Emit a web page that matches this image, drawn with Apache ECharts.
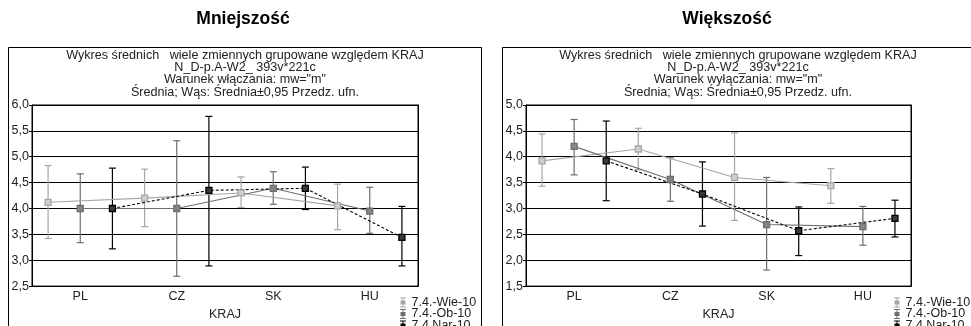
<!DOCTYPE html>
<html>
<head>
<meta charset="utf-8">
<script src="https://cdn.jsdelivr.net/npm/echarts@6/dist/echarts.min.js"></script>
<style>
  html, body { margin: 0; padding: 0; background: #fff; }
  #chart { width: 971px; height: 326px; }
</style>
</head>
<body>
<div id="chart"></div>
<script>
// dane
const categories = ['PL', 'CZ', 'SK', 'HU'];
const seriesNames = ['7.4.-Wie-10', '7.4.-Ob-10', '7.4.Nar-10'];

// Mniejszość
const minWieMean = [4.12, 4.20, 4.30, 4.05];
const minWieLow  = [3.42, 3.65, 4.02, 3.59];
const minWieHigh = [4.83, 4.76, 4.61, 4.47];
const minObMean  = [4.00, 4.00, 4.39, 3.95];
const minObLow   = [3.34, 2.69, 4.08, 3.52];
const minObHigh  = [4.67, 5.31, 4.71, 4.41];
const minNarMean = [4.00, 4.35, 4.39, 3.44];
const minNarLow  = [3.22, 2.89, 3.98, 2.89];
const minNarHigh = [4.78, 5.78, 4.80, 4.04];

// Większość
const majWieMean = [3.92, 4.15, 3.60, 3.44];
const majWieLow  = [3.43, 3.75, 2.77, 3.10];
const majWieHigh = [4.44, 4.55, 4.46, 3.77];
const majObMean  = [4.20, 3.56, 2.69, 2.65];
const majObLow   = [3.65, 3.14, 1.81, 2.29];
const majObHigh  = [4.72, 3.98, 3.60, 3.04];
const majNarMean = [3.92, 3.28, 2.57, 2.81];
const majNarLow  = [3.15, 2.66, 2.09, 2.45];
const majNarHigh = [4.69, 3.90, 3.03, 3.16];

const minYRange = [2.5, 6.0];
const majYRange = [1.5, 5.0];

const FONT = '"Liberation Sans", Arial, Helvetica, sans-serif';
const colors = ['#a6a6a6', '#6e6e6e', '#000000'];
const fills = ['#cfcfcf', '#858585', '#3a3a3a'];
const legendIcon = 'path://M0,0H6V1H0Z M2.5,1H3.5V9H2.5Z M0,9H6V10H0Z M0.5,3H5.5V7H0.5Z';

let chart = echarts.init(document.getElementById('chart'));

function errBar (params, api) {
    let x = api.value(0)
    let lo = api.coord([x, api.value(1)])
    let hi = api.coord([x, api.value(2)])
    let w = 3.5
    let style = { stroke: api.visual('color'), lineWidth: 1.2 }
    return {
        type: 'group',
        children: [
            { type: 'line', shape: { x1: lo[0], y1: lo[1], x2: hi[0], y2: hi[1] }, style: style },
            { type: 'line', shape: { x1: hi[0] - w, y1: hi[1], x2: hi[0] + w, y2: hi[1] }, style: style },
            { type: 'line', shape: { x1: lo[0] - w, y1: lo[1], x2: lo[0] + w, y2: lo[1] }, style: style }
        ]
    }
}

// jedna kolumna na serię w obrębie kategorii (3 sloty na kategorię)
function slotX (i, s) { return i * 3 + s + 0.5 }

let xAxes = [], yAxes = [], series = [], grids = []

function addPanel (gi, grid, yRange, sets) {
    grids.push(Object.assign({ show: true, borderColor: '#000', borderWidth: 1, top: 105, height: 187 }, grid))
    let xBase = xAxes.length
    let yBase = yAxes.length
    xAxes.push({
        type: 'category', gridIndex: gi, data: categories, position: 'bottom',
        name: 'KRAJ', nameLocation: 'middle', nameGap: 20,
        nameTextStyle: { fontFamily: FONT, fontSize: 12.5, color: '#222' },
        axisLine: { lineStyle: { color: '#000', width: 1 } },
        axisTick: { inside: true, alignWithLabel: true, length: 4, lineStyle: { color: '#000' } },
        axisLabel: { margin: 4, fontFamily: FONT, fontSize: 12.5, color: '#222' }
    })
    xAxes.push({
        type: 'category', gridIndex: gi, data: categories, position: 'top',
        axisLine: { lineStyle: { color: '#000', width: 1 } },
        axisTick: { inside: true, alignWithLabel: true, length: 4, lineStyle: { color: '#000' } },
        axisLabel: { show: false }
    })
    xAxes.push({ type: 'value', gridIndex: gi, min: 0, max: 12, show: false })
    yAxes.push({
        type: 'value', gridIndex: gi, min: yRange[0], max: yRange[1], interval: 0.5,
        axisLine: { show: true, lineStyle: { color: '#000', width: 1 } },
        axisTick: { show: true, length: 3, lineStyle: { color: '#000' } },
        splitLine: { show: true, lineStyle: { color: '#000', width: 1 } },
        axisLabel: {
            margin: 3, fontFamily: FONT, fontSize: 12.5, color: '#222',
            formatter: v => v.toFixed(1).replace('.', ',')
        }
    })
    yAxes.push({
        type: 'value', gridIndex: gi, min: yRange[0], max: yRange[1], interval: 0.5, position: 'right',
        axisLine: { show: true, lineStyle: { color: '#000', width: 1 } },
        axisTick: { show: true, inside: true, length: 4, lineStyle: { color: '#000' } },
        splitLine: { show: false },
        axisLabel: { show: false }
    })
    sets.forEach((set, s) => {
        series.push({
            name: seriesNames[s], type: 'custom', renderItem: errBar,
            xAxisIndex: xBase + 2, yAxisIndex: yBase, z: 2, silent: true,
            itemStyle: { color: colors[s] },
            encode: { x: 0, y: [1, 2] },
            data: set.mean.map((m, i) => [slotX(i, s), set.low[i], set.high[i]])
        })
    })
    sets.forEach((set, s) => {
        series.push({
            name: seriesNames[s], type: 'line',
            xAxisIndex: xBase + 2, yAxisIndex: yBase, z: 3,
            symbol: 'rect', symbolSize: 6,
            lineStyle: { color: colors[s], width: 1.1, type: s === 2 ? [3, 2] : 'solid' },
            itemStyle: { color: fills[s], borderColor: colors[s], borderWidth: 1.3 },
            data: set.mean.map((m, i) => [slotX(i, s), m])
        })
    })
}

addPanel(0, { left: 32, right: 553 }, minYRange, [
    { mean: minWieMean, low: minWieLow, high: minWieHigh },
    { mean: minObMean, low: minObLow, high: minObHigh },
    { mean: minNarMean, low: minNarLow, high: minNarHigh }
])
addPanel(1, { left: 526, right: 60 }, majYRange, [
    { mean: majWieMean, low: majWieLow, high: majWieHigh },
    { mean: majObMean, low: majObLow, high: majObHigh },
    { mean: majNarMean, low: majNarLow, high: majNarHigh }
])

function legendAt (left) {
    return {
        orient: 'vertical', left: left, top: 296, height: 60, itemGap: -1.5,
        itemWidth: 7, itemHeight: 10, itemTextGap: 3, selectedMode: false, padding: 0,
        textStyle: { fontFamily: FONT, fontSize: 12.5, color: '#222', lineHeight: 11 },
        data: seriesNames.map((n, s) => ({ name: n, icon: legendIcon, itemStyle: { color: colors[s] } }))
    }
}

function caption (cx, cond) {
    return {
        type: 'text', x: cx, y: 49,
        style: {
            text: 'Wykres średnich   wiele zmiennych grupowane względem KRAJ\nN_D-p.A-W2_ 393v*221c\n' + cond + '\nŚrednia; Wąs: Średnia±0,95 Przedz. ufn.',
            align: 'center', verticalAlign: 'top',
            font: '12.6px ' + FONT, lineHeight: 12.4, fill: '#222'
        }
    }
}

let option = {
    backgroundColor: '#fff',
    animation: false,
    grid: grids,
    xAxis: xAxes,
    yAxis: yAxes,
    legend: [legendAt(400), legendAt(894)],
    graphic: [
        { type: 'rect', shape: { x: 8.5, y: 47.5, width: 473, height: 300 }, style: { fill: null, stroke: '#000', lineWidth: 1 }, z: 0 },
        { type: 'rect', shape: { x: 502.5, y: 47.5, width: 500, height: 300 }, style: { fill: null, stroke: '#000', lineWidth: 1 }, z: 0 },
        { type: 'text', x: 243, y: 19, style: { text: 'Mniejszość', align: 'center', verticalAlign: 'middle', font: 'bold 17.5px ' + FONT, fill: '#000' } },
        { type: 'text', x: 727, y: 19, style: { text: 'Większość', align: 'center', verticalAlign: 'middle', font: 'bold 17.5px ' + FONT, fill: '#000' } },
        caption(245, 'Warunek włączania: mw="m"'),
        caption(738, 'Warunek wyłączania: mw="m"')
    ],
    series: series
}

chart.setOption(option)
</script>
</body>
</html>
